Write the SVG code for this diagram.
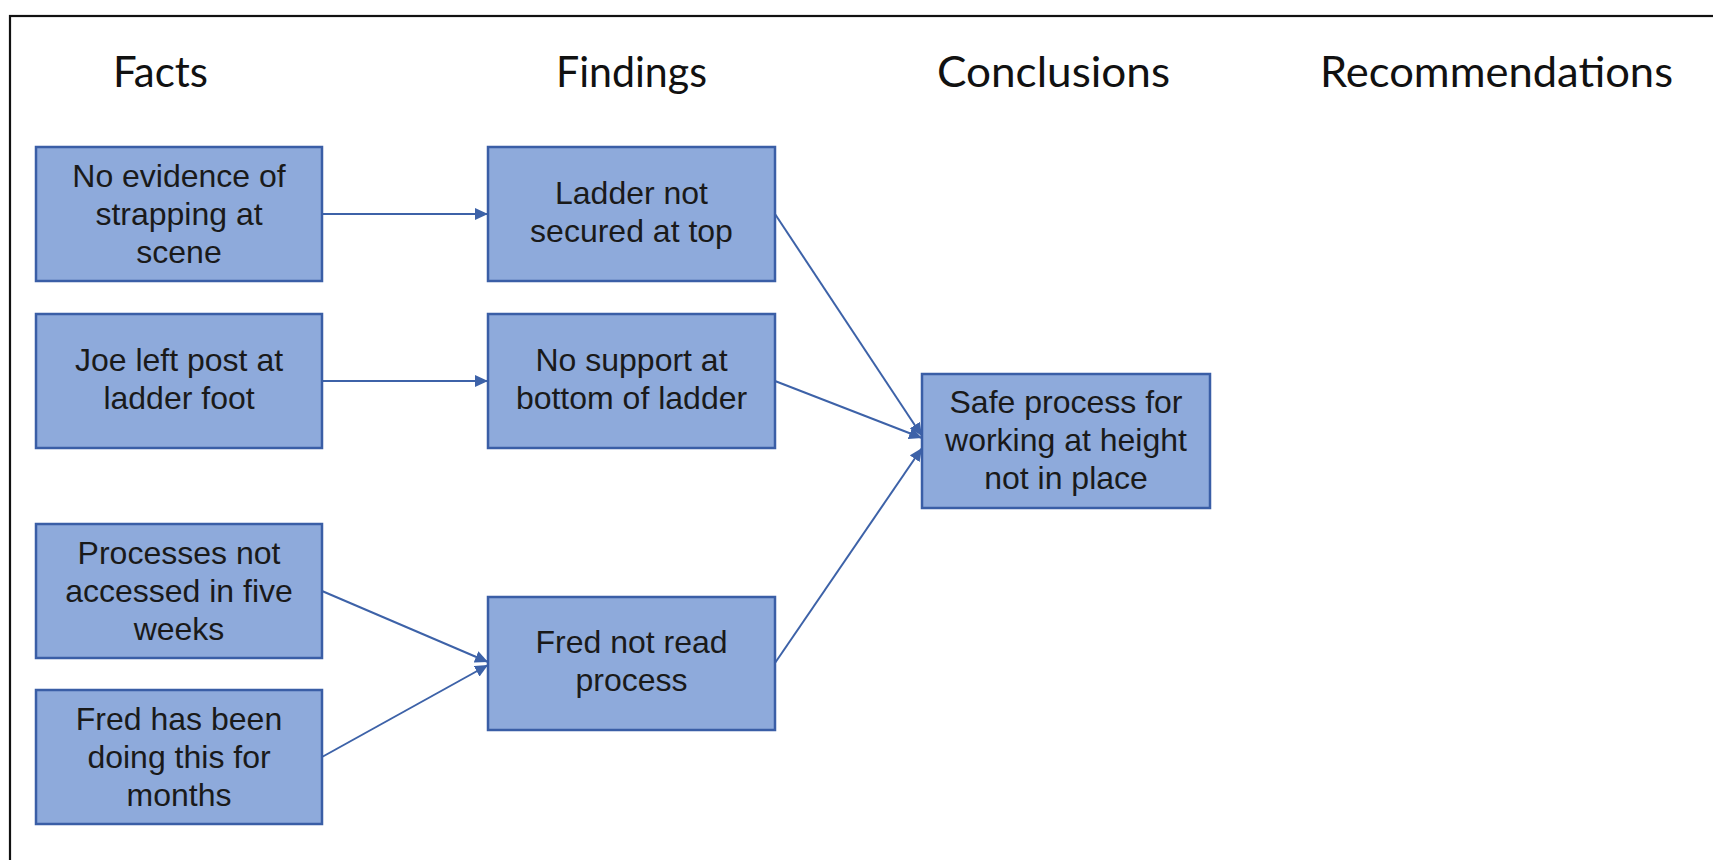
<svg xmlns="http://www.w3.org/2000/svg" width="1713" height="860" viewBox="0 0 1713 860">
<style>
.frame{fill:none;stroke:#111;stroke-width:2.2}
.hdr{font-family:Lato,"Open Sans","Liberation Sans",sans-serif;font-size:43px;fill:#111;text-anchor:middle}
.box{fill:#8eaadb;stroke:#3a5ea6;stroke-width:2.5}
.txt{font-family:"Liberation Sans",Arial,sans-serif;font-size:32px;fill:#1a1a1a;text-anchor:middle}
.con{fill:none;stroke:#3d62a8;stroke-width:2}
</style>
<defs>
<marker id="arr" markerUnits="userSpaceOnUse" markerWidth="13" markerHeight="12" refX="13" refY="6" orient="auto">
<path d="M0,0 L13,6 L0,12 z" fill="#3d62a8"/>
</marker>
</defs>
<rect width="1713" height="860" fill="#fff"/>
<rect class="frame" x="10" y="16" width="1730" height="870"/>
<g id="headers">
<text class="hdr" x="160.5" y="87" textLength="95" lengthAdjust="spacingAndGlyphs">Facts</text>
<text class="hdr" x="631.5" y="87" textLength="151" lengthAdjust="spacingAndGlyphs">Findings</text>
<text class="hdr" x="1053.5" y="87" textLength="233" lengthAdjust="spacingAndGlyphs">Conclusions</text>
<text class="hdr" x="1496.5" y="87" textLength="353" lengthAdjust="spacingAndGlyphs">Recommendations</text>
</g>
<g id="connectors">
<line class="con" x1="322" y1="214" x2="488" y2="214" marker-end="url(#arr)"/>
<line class="con" x1="322" y1="381" x2="488" y2="381" marker-end="url(#arr)"/>
<line class="con" x1="322" y1="591" x2="488" y2="662" marker-end="url(#arr)"/>
<line class="con" x1="322" y1="757" x2="488" y2="665" marker-end="url(#arr)"/>
<line class="con" x1="775" y1="214" x2="922" y2="436" marker-end="url(#arr)"/>
<line class="con" x1="775" y1="381" x2="922" y2="438" marker-end="url(#arr)"/>
<line class="con" x1="775" y1="663" x2="922" y2="448" marker-end="url(#arr)"/>
</g>
<g id="fact1">
<rect class="box" x="36" y="147" width="286" height="134"/>
<text class="txt" x="179" y="187">No evidence of</text>
<text class="txt" x="179" y="225">strapping at</text>
<text class="txt" x="179" y="263">scene</text>
</g>
<g id="fact2">
<rect class="box" x="36" y="314" width="286" height="134"/>
<text class="txt" x="179" y="371">Joe left post at</text>
<text class="txt" x="179" y="409">ladder foot</text>
</g>
<g id="fact3">
<rect class="box" x="36" y="524" width="286" height="134"/>
<text class="txt" x="179" y="564">Processes not</text>
<text class="txt" x="179" y="602">accessed in five</text>
<text class="txt" x="179" y="640">weeks</text>
</g>
<g id="fact4">
<rect class="box" x="36" y="690" width="286" height="134"/>
<text class="txt" x="179" y="730">Fred has been</text>
<text class="txt" x="179" y="768">doing this for</text>
<text class="txt" x="179" y="806">months</text>
</g>
<g id="finding1">
<rect class="box" x="488" y="147" width="287" height="134"/>
<text class="txt" x="631.5" y="204">Ladder not</text>
<text class="txt" x="631.5" y="242">secured at top</text>
</g>
<g id="finding2">
<rect class="box" x="488" y="314" width="287" height="134"/>
<text class="txt" x="631.5" y="371">No support at</text>
<text class="txt" x="631.5" y="409">bottom of ladder</text>
</g>
<g id="finding3">
<rect class="box" x="488" y="597" width="287" height="133"/>
<text class="txt" x="631.5" y="653">Fred not read</text>
<text class="txt" x="631.5" y="691">process</text>
</g>
<g id="conclusion1">
<rect class="box" x="922" y="374" width="288" height="134"/>
<text class="txt" x="1066" y="413">Safe process for</text>
<text class="txt" x="1066" y="451">working at height</text>
<text class="txt" x="1066" y="489">not in place</text>
</g>
</svg>
